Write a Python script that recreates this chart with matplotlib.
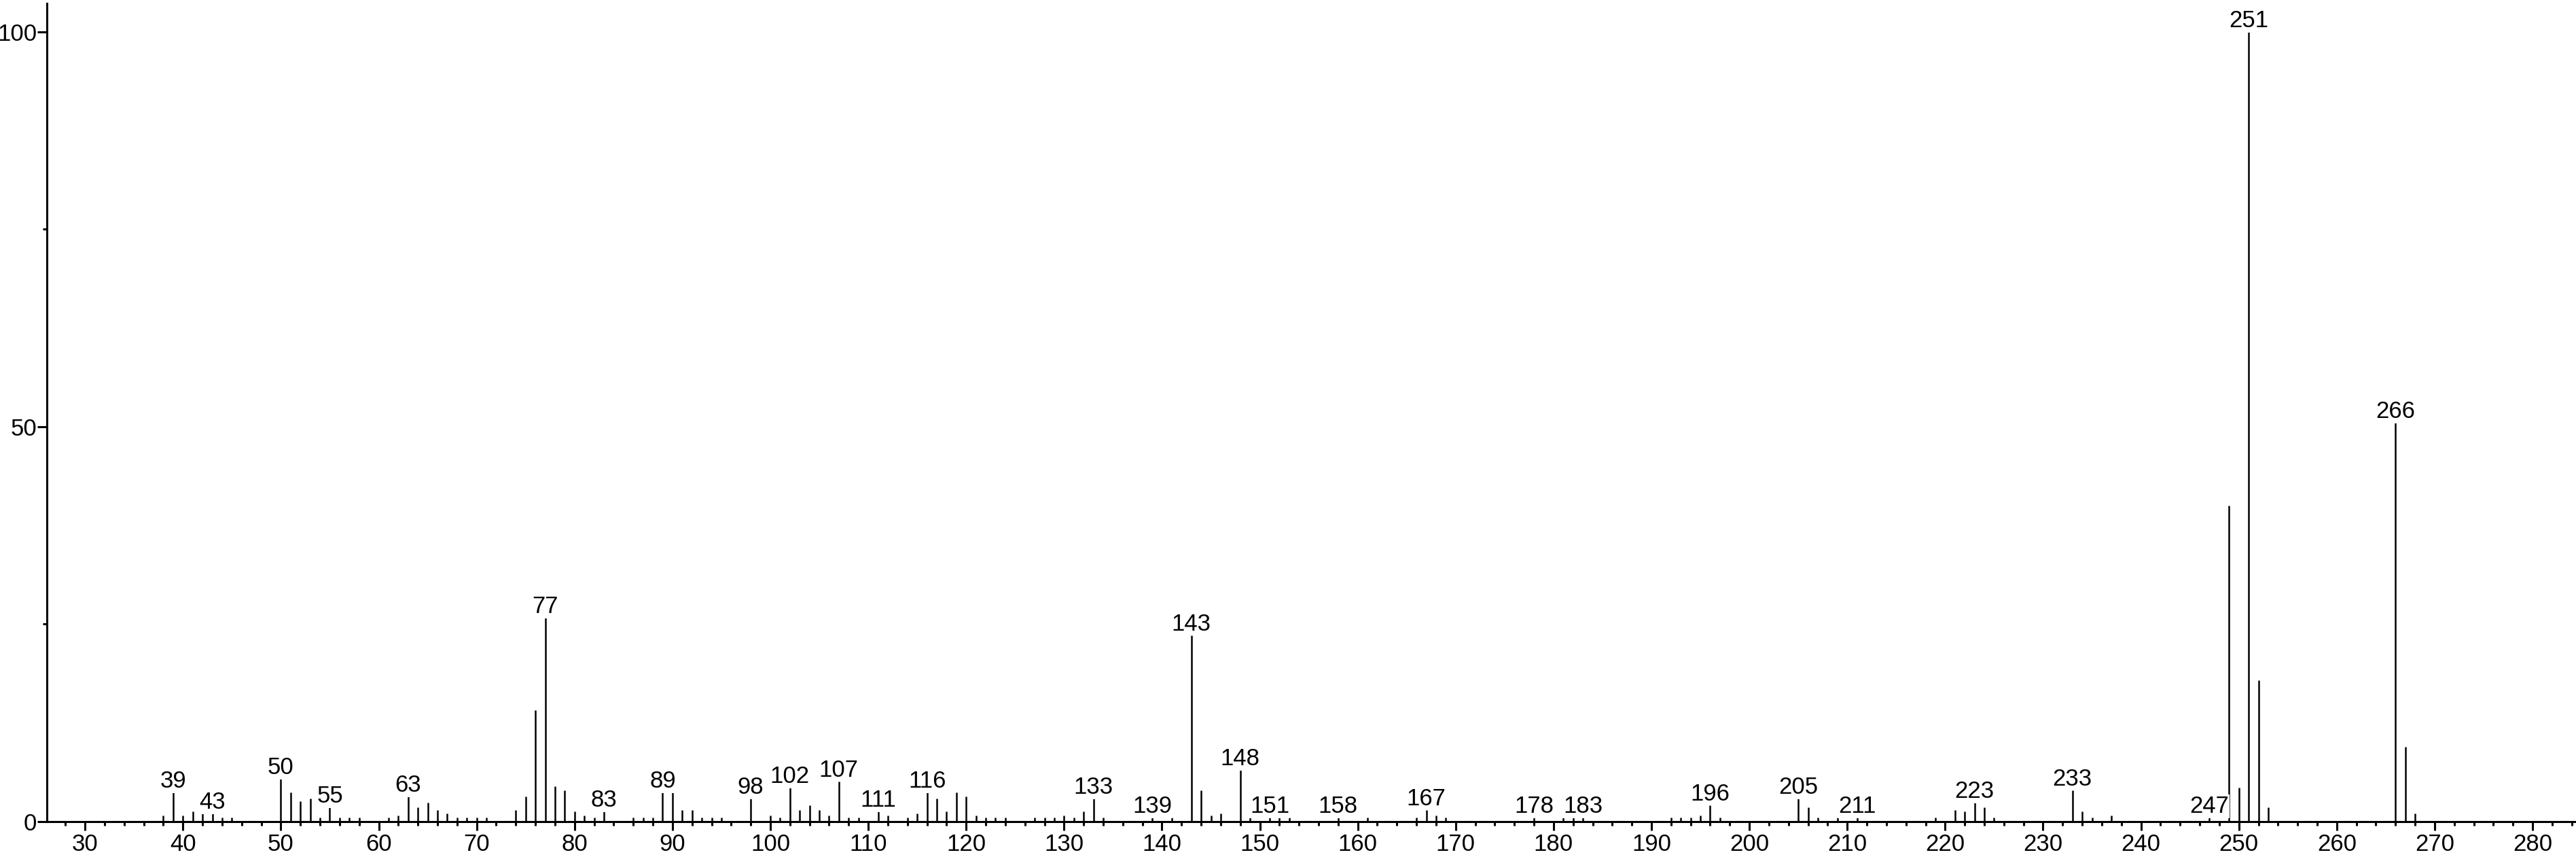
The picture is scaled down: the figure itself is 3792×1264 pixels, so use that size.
import matplotlib
matplotlib.use('Agg')
import matplotlib.pyplot as plt
from matplotlib.ticker import MultipleLocator

# peak list (m/z, relative intensity %)
mz = [38, 39, 40, 41, 42, 43, 44, 45, 50, 51, 52, 53, 54, 55, 56, 57, 58,
      61, 62, 63, 64, 65, 66, 67, 68, 69, 70, 71, 74, 75, 76, 77, 78, 79,
      80, 81, 82, 83, 86, 87, 88, 89, 90, 91, 92, 93, 94, 95, 98, 100, 101,
      102, 103, 104, 105, 106, 107, 108, 109, 111, 112, 114, 115, 116, 117,
      118, 119, 120, 121, 122, 123, 124, 127, 128, 129, 130, 131, 132, 133,
      134, 139, 141, 143, 144, 145, 146, 148, 149, 151, 152, 153, 158, 161,
      166, 167, 168, 169, 178, 181, 182, 183, 192, 193, 194, 195, 196, 197,
      205, 206, 207, 209, 211, 219, 221, 222, 223, 224, 225, 233, 234, 235,
      237, 247, 249, 250, 251, 252, 253, 266, 267, 268]
intensity = [0.75, 3.7, 0.75, 1.3, 1.0, 1.0, 0.5, 0.5, 5.4, 3.7, 2.6, 2.9, 0.5,
             1.8, 0.5, 0.5, 0.5, 0.5, 0.75, 3.2, 1.8, 2.4, 1.5, 1.0, 0.5, 0.5,
             0.5, 0.5, 1.5, 3.2, 14.1, 25.8, 4.5, 4.0, 1.3, 0.75, 0.5, 1.3,
             0.5, 0.5, 0.5, 3.7, 3.7, 1.5, 1.5, 0.5, 0.5, 0.5, 2.9, 0.75, 0.5,
             4.3, 1.5, 2.1, 1.5, 0.75, 5.1, 0.5, 0.5, 1.3, 0.75, 0.5, 1.0, 3.7,
             2.9, 1.3, 3.7, 3.2, 0.75, 0.5, 0.5, 0.5, 0.5, 0.5, 0.5, 0.75, 0.5,
             1.3, 2.9, 0.5, 0.5, 0.5, 23.6, 4.0, 0.75, 1.0, 6.5, 0.75, 0.5,
             0.5, 0.5, 0.5, 0.5, 0.5, 1.5, 0.75, 0.5, 0.5, 0.5, 0.5, 0.5, 0.5,
             0.5, 0.5, 0.75, 2.1, 0.5, 2.9, 1.8, 0.5, 0.5, 0.5, 0.5, 1.5, 1.3,
             2.4, 1.8, 0.5, 4.0, 1.3, 0.5, 0.75, 0.5, 40.0, 4.3, 100.0, 17.9,
             1.8, 50.5, 9.5, 1.0]
labelled = [39, 43, 50, 55, 63, 77, 83, 89, 98, 102, 107, 111, 116, 133, 139,
            143, 148, 151, 158, 167, 178, 183, 196, 205, 211, 223, 233, 247,
            251, 266]

plt.rcParams['font.family'] = ['Liberation Sans', 'DejaVu Sans']

W, H = 3792, 1264
fig = plt.figure(figsize=(W / 100, H / 100), dpi=100)
ax = fig.add_axes([69 / W, 1 - 1209 / H, (3790 - 69) / W, (1209 - 5) / H])

ax.vlines(mz, 0, intensity, color='black', linewidth=1.8)

for m in labelled:
    h = intensity[mz.index(m)]
    ax.annotate(str(m), (m, h), xytext=(0, 0), textcoords='offset points',
                ha='center', va='bottom', fontsize=25,
                bbox=dict(boxstyle='square,pad=0.02', fc='white', ec='none'))

ax.set_xlim(26.1, 284.3)
ax.set_ylim(0, 103.6)
for s in ['top', 'right']:
    ax.spines[s].set_visible(False)
for s in ['left', 'bottom']:
    ax.spines[s].set_linewidth(2.2)

ax.xaxis.set_major_locator(MultipleLocator(10))
ax.xaxis.set_minor_locator(MultipleLocator(2))
ax.yaxis.set_major_locator(MultipleLocator(50))
ax.yaxis.set_minor_locator(MultipleLocator(25))
ax.tick_params(which='major', length=9.4, width=2.2, labelsize=25, pad=2.5)
ax.tick_params(which='minor', length=4.5, width=2.2)
ax.tick_params(axis='y', which='major', length=10, pad=0.5)

fig.savefig('out.png', dpi=100, facecolor='white')
